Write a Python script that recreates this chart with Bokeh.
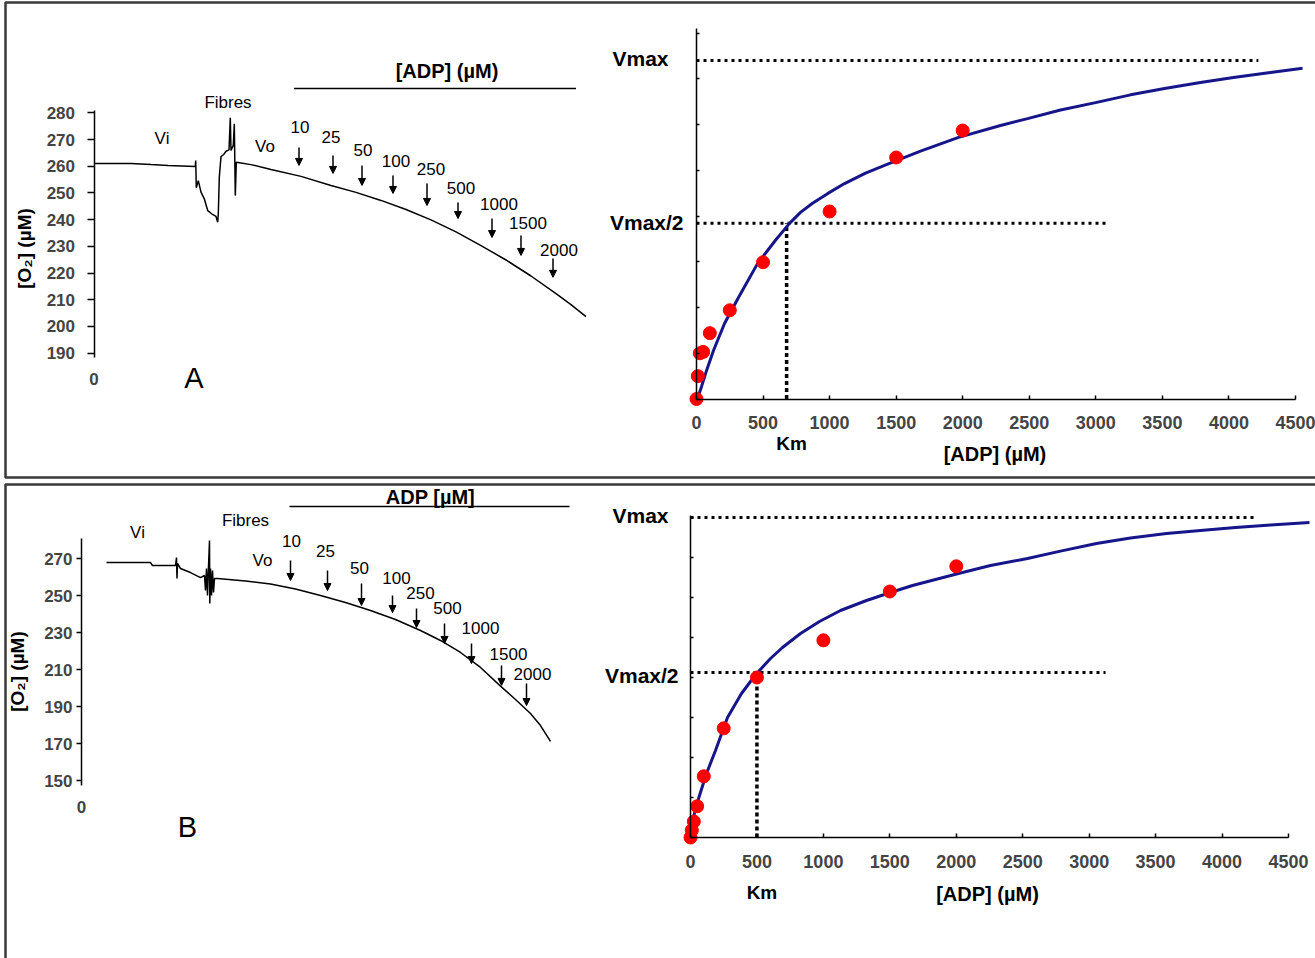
import math
from bokeh.plotting import figure
from bokeh.models import (Range1d, LinearAxis, FixedTicker, ColumnDataSource,
                          Arrow, NormalHead, BoxAnnotation)
from bokeh.core.properties import value
from bokeh.embed import file_html
from bokeh.resources import INLINE

# ------------------------------------------------------------------ data
adp_doses = ["10", "25", "50", "100", "250", "500", "1000", "1500", "2000"]

# Panel A : oxygraph trace (time in arbitrary units, O2 in uM)
a_time = [0.0, 3.7, 5.7, 7.4, 10.13, 10.17, 10.23, 10.43, 10.7, 11.03, 11.37, 11.77,
          12.2, 12.37, 12.43, 12.53, 12.7, 12.97, 13.2, 13.5, 13.63, 13.7, 13.93,
          14.03, 14.13, 14.23, 15.7, 17.7, 20.7, 23.7, 26.2, 28.7, 31.2, 33.7,
          36.2, 38.7, 41.2, 43.7, 46.2, 47.7, 49.2]
a_o2 = [261.0, 261.0, 260.6, 260.3, 259.9, 262.1, 251.9, 254.6, 250.3, 247.8, 243.4,
        242.2, 241.2, 239.0, 242.2, 255.9, 263.6, 264.4, 265.6, 266.1, 278.1, 265.9,
        267.8, 275.9, 249.0, 261.5, 260.6, 258.8, 256.2, 252.8, 250.2, 247.2, 243.8,
        239.9, 235.4, 230.3, 224.9, 218.9, 212.3, 208.2, 203.7]
a_add_time = [20.5, 23.9, 26.8, 29.9, 33.3, 36.4, 39.8, 42.7, 45.9]
a_arrow_top = [267.0, 264.0, 260.3, 256.5, 253.5, 246.4, 240.4, 234.1, 225.5]
a_arrow_tip = [260.3, 257.3, 252.8, 249.8, 245.3, 240.4, 233.3, 226.6, 218.4]
a_label_time = [20.6, 23.7, 26.9, 30.2, 33.7, 36.7, 40.5, 43.4, 46.5]
a_label_o2 = [274.8, 271.1, 265.9, 262.1, 258.8, 252.0, 246.0, 238.6, 228.5]
a_o2_ticks = [190, 200, 210, 220, 230, 240, 250, 260, 270, 280]

# Panel B : oxygraph trace
b_time = [2.5, 6.9, 7.1, 9.4, 9.5, 9.55, 9.6, 9.9, 10.9, 11.9, 12.3, 12.4, 12.5,
          12.6, 12.7, 12.8, 12.83, 12.9, 13.0, 13.1, 13.2, 13.3, 13.6, 16.4, 18.9,
          21.4, 23.9, 26.4, 28.9, 31.4, 33.9, 35.9, 37.9, 39.9, 41.9, 43.4, 44.9,
          45.9, 46.9]
b_o2 = [267.8, 267.8, 266.2, 266.2, 270.5, 259.2, 267.3, 264.6, 262.4, 259.7, 260.8,
        252.7, 264.6, 250.0, 265.7, 279.7, 245.7, 264.6, 250.0, 263.5, 251.6, 259.2,
        259.2, 257.8, 256.2, 253.5, 250.0, 246.2, 241.9, 237.0, 231.1, 225.7, 219.2,
        211.1, 201.0, 193.8, 186.2, 179.7, 171.1]
b_add_time = [20.9, 24.6, 28.0, 31.1, 33.5, 36.3, 39.0, 42.0, 44.5]
b_arrow_top = [268.9, 263.5, 256.5, 250.0, 243.0, 234.9, 224.1, 212.2, 202.4]
b_arrow_tip = [258.1, 252.7, 244.6, 240.8, 232.7, 224.1, 213.2, 201.4, 190.5]
b_label_time = [21.0, 24.4, 27.8, 31.5, 33.9, 36.6, 39.9, 42.7, 45.1]
b_label_o2 = [279.7, 273.8, 265.1, 259.2, 251.1, 243.0, 232.7, 218.6, 207.8]
b_o2_ticks = [150, 170, 190, 210, 230, 250, 270]

# Michaelis-Menten plots ([ADP] in uM, respiration rate in arbitrary units)
adp_conc = [0, 10, 25, 50, 100, 250, 500, 1000, 1500, 2000]
a_rate = [0.0, 0.50, 1.00, 1.03, 1.44, 1.94, 2.99, 4.10, 5.28, 5.87]
b_rate = [0.0, 0.18, 0.40, 0.78, 1.53, 2.73, 4.00, 4.93, 6.15, 6.78]

a_fit_s = [0, 7.5, 37.6, 75.1, 127.7, 210.4, 315.5, 458.3, 593.5, 698.7, 781.3, 871.5,
           984.2, 1111.9, 1269.7, 1450, 1683, 1968.6, 2284, 2487, 2735, 2998, 3261,
           3516, 3786, 4034, 4312, 4553]
a_fit_v = [0.0, 0.01, 0.27, 0.62, 1.06, 1.65, 2.22, 2.96, 3.47, 3.84, 4.08, 4.28,
           4.49, 4.71, 4.94, 5.15, 5.42, 5.72, 5.98, 6.13, 6.32, 6.48, 6.65, 6.79,
           6.92, 7.03, 7.14, 7.23]
b_fit_s = [0, 15, 37.6, 67.7, 120.4, 188.1, 278.4, 383.8, 451.5, 519.2, 602, 692.3,
           827.8, 970.7, 1128.7, 1324.4, 1505, 1670.6, 1843.6, 2016.7, 2257.5, 2536,
           2784, 3055, 3311, 3582, 3838, 4101, 4365, 4658]
b_fit_v = [0.0, 0.375, 0.725, 1.05, 1.6, 2.175, 3.0, 3.6, 3.9, 4.175, 4.475, 4.75,
           5.1, 5.4, 5.675, 5.925, 6.125, 6.3, 6.45, 6.6, 6.8, 6.975, 7.16, 7.35,
           7.49, 7.6, 7.675, 7.75, 7.81, 7.875]

a_vmax, a_half, a_km = 7.40, 3.84, 677
b_vmax, b_half, b_km = 8.00, 4.125, 500
a_vmax_end, a_half_end = 4221, 3093
b_vmax_end, b_half_end = 4251, 3123

adp_ticks = [0, 500, 1000, 1500, 2000, 2500, 3000, 3500, 4000, 4500]
rate_ticks = [0, 1, 2, 3, 4, 5, 6, 7, 8]

# ------------------------------------------------------------------ figure
W, H = 1315, 958
FNAME = "Liberation Sans"
FONT = value(FNAME)


def xr(v0, p0, v1, p1):
    s = (p1 - p0) / (v1 - v0)
    start = v0 - p0 / s
    return Range1d(start, start + W / s)


def yr(v0, p0, v1, p1):
    s = (p0 - p1) / (v1 - v0)
    end = v0 + p0 / s
    return Range1d(end - H / s, end)


p = figure(width=W, height=H, x_range=Range1d(0, W), y_range=Range1d(H, 0),
           x_axis_type=None, y_axis_type=None, toolbar_location=None,
           output_backend="svg", min_border=0, outline_line_color=None)
p.background_fill_color = "white"
p.border_fill_color = "white"

p.extra_x_ranges = {
    "ta": xr(0, 93.5, 10, 193.5),
    "tb": xr(0, 81, 10, 181),
    "ma": xr(0, 696, 4500, 1295),
    "mb": xr(0, 690, 4500, 1288),
}
p.extra_y_ranges = {
    "ta": yr(280, 112.3, 190, 352.7),
    "tb": yr(270, 558, 150, 780),
    "ma": yr(0, 398.5, 8, 32.6),
    "mb": yr(0, 837, 8, 517),
}

# panel frames
for top, bottom in [(2, 477), (484, 1000)]:
    p.add_layout(BoxAnnotation(left=5, right=1340, top=top, bottom=bottom,
                               fill_color=None, fill_alpha=0, line_color="#3a3a3a",
                               line_alpha=1, line_width=2.5))


def txt(r, x, y, t, size, bold=False, align="center", baseline="middle",
        angle=0, xo=0, yo=0):
    p.text(x=[x], y=[y], text=[t], x_range_name=r, y_range_name=r,
           text_font=FONT, text_font_size=f"{size}px",
           text_font_style="bold" if bold else "normal", text_align=align,
           text_baseline=baseline, angle=angle, x_offset=xo, y_offset=yo,
           text_color="black")


def trace_panel(r, t, o2, add_t, top, tip, lab_t, lab_o2, ticks, bounds,
                tick_out, standoff, zero_loc):
    p.line(t, o2, x_range_name=r, y_range_name=r, line_color="black", line_width=1.5)
    src = ColumnDataSource(dict(t=add_t, top=top, tip=tip))
    p.add_layout(Arrow(end=NormalHead(size=7, line_color="black", fill_color="black",
                                      line_width=1),
                       x_start="t", y_start="top", x_end="t", y_end="tip", source=src,
                       line_color="black", line_width=1.5,
                       x_range_name=r, y_range_name=r))
    p.text(x=lab_t, y=lab_o2, text=adp_doses, x_range_name=r, y_range_name=r,
           text_font=FONT, text_font_size="17px", text_align="center",
           text_baseline="middle", text_color="black")
    ax = LinearAxis(x_range_name=r, y_range_name=r, fixed_location=0, bounds=bounds,
                    ticker=FixedTicker(ticks=ticks, minor_ticks=[]),
                    axis_line_width=1.5, major_tick_line_width=1.5,
                    major_tick_out=tick_out, major_tick_in=0,
                    major_label_standoff=standoff,
                    major_label_text_font=FNAME, major_label_text_font_size="17px",
                    major_label_text_font_style="bold")
    p.add_layout(ax, "left")
    xa = LinearAxis(x_range_name=r, y_range_name=r, fixed_location=zero_loc,
                    ticker=FixedTicker(ticks=[0], minor_ticks=[]),
                    axis_line_color=None, major_tick_line_color=None,
                    major_tick_out=0, major_tick_in=0, major_label_standoff=5,
                    major_label_text_font=FNAME, major_label_text_font_size="17px",
                    major_label_text_font_style="bold")
    p.add_layout(xa, "below")


def mm_panel(r, rate, fs, fv, vmax, half, km, vmax_end, half_end, vbound,
             vmax_xo, half_xo, half_yo, km_yo, title_s, title_yo):
    dot = dict(line_color="black", line_width=3, line_dash="3 4",
               x_range_name=r, y_range_name=r)
    p.line([0, vmax_end], [vmax, vmax], **dot)
    p.line([0, half_end], [half, half], **dot)
    p.line([km, km], [0, half], line_color="black", line_width=3.5, line_dash="4 3",
           x_range_name=r, y_range_name=r)
    p.line(fs, fv, line_color="#16168a", line_width=3, x_range_name=r, y_range_name=r)
    p.scatter(adp_conc, rate, size=13, fill_color="#ff0000", line_color="#ff0000",
              x_range_name=r, y_range_name=r)
    xa = LinearAxis(x_range_name=r, y_range_name=r, fixed_location=0, bounds=(0, 4500),
                    ticker=FixedTicker(ticks=adp_ticks, minor_ticks=[]),
                    axis_line_width=1.5, major_tick_line_width=1.5,
                    major_tick_in=4, major_tick_out=0, major_label_standoff=17,
                    major_label_text_font=FNAME, major_label_text_font_size="18px",
                    major_label_text_font_style="bold")
    p.add_layout(xa, "below")
    ya = LinearAxis(x_range_name=r, y_range_name=r, fixed_location=0, bounds=vbound,
                    ticker=FixedTicker(ticks=rate_ticks, minor_ticks=[]),
                    axis_line_width=1.5, major_tick_line_width=1.5,
                    major_tick_in=3, major_tick_out=0, major_label_text_color=None)
    p.add_layout(ya, "left")
    txt(r, 0, vmax, "Vmax", 21, bold=True, align="right", xo=vmax_xo, yo=-2)
    txt(r, 0, half, "Vmax/2", 21, bold=True, align="right", xo=half_xo, yo=half_yo)
    txt(r, km, 0, "Km", 19, bold=True, xo=5, yo=km_yo)
    txt(r, title_s, 0, "[ADP] (µM)", 20, bold=True, yo=title_yo)


# ---- panel A
trace_panel("ta", a_time, a_o2, a_add_time, a_arrow_top, a_arrow_tip, a_label_time,
            a_label_o2, a_o2_ticks, (188.5, 281), 7, 12, 184.3)
txt("ta", 6.8, 270.3, "Vi", 17)
txt("ta", 13.4, 283.9, "Fibres", 17)
txt("ta", 17.1, 267.4, "Vo", 17)
txt("ta", 10.0, 180.9, "A", 29)
txt("ta", 35.3, 295.5, "[ADP] (µM)", 20, bold=True)
p.line([20.0, 48.2], [289.1, 289.1], x_range_name="ta", y_range_name="ta",
       line_color="black", line_width=1.5)
txt("ta", -7.0, 229.2, "[O₂] (µM)", 19, bold=True, angle=math.pi / 2)

mm_panel("ma", a_rate, a_fit_s, a_fit_v, a_vmax, a_half, a_km, a_vmax_end, a_half_end,
         (0, 8.1), -28, -13, -1, 44, 2242, 55)

# ---- panel B
trace_panel("tb", b_time, b_o2, b_add_time, b_arrow_top, b_arrow_tip, b_label_time,
            b_label_o2, b_o2_ticks, (147.3, 280.8), 5, 4, 141.4)
txt("tb", 5.6, 284.1, "Vi", 17)
txt("tb", 16.4, 290.5, "Fibres", 17)
txt("tb", 18.1, 268.9, "Vo", 17)
txt("tb", 10.6, 124.6, "B", 29)
txt("tb", 34.9, 303.0, "ADP [µM]", 20, bold=True)
p.line([20.8, 48.8], [298.1, 298.1], x_range_name="tb", y_range_name="tb",
       line_color="black", line_width=1.5)
txt("tb", -6.4, 208.9, "[O₂] (µM)", 19, bold=True, angle=math.pi / 2)

mm_panel("mb", b_rate, b_fit_s, b_fit_v, b_vmax, b_half, b_km, b_vmax_end, b_half_end,
         (0, 8.05), -22, -12, 3, 55, 2235, 56)

open("out.html", "w").write(file_html(p, INLINE))
